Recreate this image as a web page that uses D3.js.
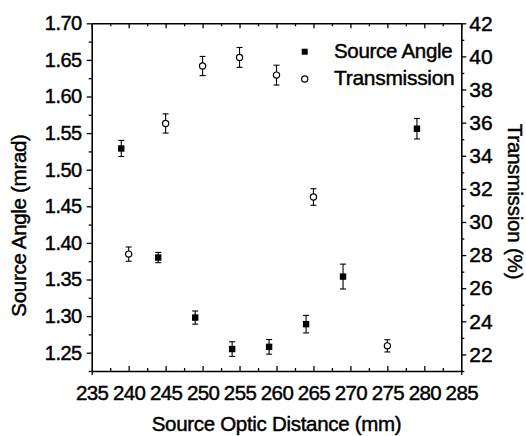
<!DOCTYPE html>
<html>
<head>
<meta charset="utf-8">
<script src="https://cdn.jsdelivr.net/npm/d3@7"></script>
<style>
  html, body { margin: 0; padding: 0; background: #fff; }
  svg { display: block; font-family: "Liberation Sans", Arial, sans-serif; }
  svg text { fill: #000; stroke: #000; stroke-width: 0.45px; }
</style>
</head>
<body>
<svg id="chart" width="526" height="436"></svg>
<script>
// ---- data ----
const distAngle = [239, 244, 249, 254, 259, 264, 269, 279];
const angle     = [1.529, 1.380, 1.298, 1.255, 1.258, 1.289, 1.354, 1.556];
const angleErr  = [0.011, 0.007, 0.009, 0.010, 0.010, 0.012, 0.017, 0.014];

const distTrans = [240, 245, 250, 255, 260, 265, 275];
const trans     = [28.06, 35.95, 39.42, 39.94, 38.87, 31.51, 22.52];
const transErr  = [0.43, 0.58, 0.58, 0.60, 0.60, 0.50, 0.37];

const xTicks     = [235, 240, 245, 250, 255, 260, 265, 270, 275, 280, 285];
const xMinor     = [237.5, 242.5, 247.5, 252.5, 257.5, 262.5, 267.5, 272.5, 277.5, 282.5];
const yLeftTicks = [1.25, 1.30, 1.35, 1.40, 1.45, 1.50, 1.55, 1.60, 1.65, 1.70];
const yLeftMinor = [1.225, 1.275, 1.325, 1.375, 1.425, 1.475, 1.525, 1.575, 1.625, 1.675];
const yRightTicks = [22, 24, 26, 28, 30, 32, 34, 36, 38, 40, 42];
const yRightMinor = [21, 23, 25, 27, 29, 31, 33, 35, 37, 39, 41];

const legendLabels = ["Source Angle", "Transmission"];

// ---- layout ----
const L = 91.7, R = 461.3, T = 23.3, B = 371;
const svg = d3.select("#chart");

const x  = d3.scaleLinear().domain([235, 285]).range([L, R]);
const yL = d3.scaleLinear().domain([1.225, 1.70]).range([B, T]);
const yR = d3.scaleLinear().domain([21, 42]).range([B, T]);

const fs = 20;

// bottom axis (ticks inward)
const gB = svg.append("g").attr("transform", `translate(0,${B})`)
  .call(d3.axisBottom(x).tickValues(xTicks).tickSizeInner(-5).tickSizeOuter(0).tickFormat(d3.format("d")).tickPadding(14));
gB.selectAll("text").style("font-size", "20.5px").style("letter-spacing", "-0.6px");
gB.selectAll(".tick").filter((d, i) => i === 0 || i === xTicks.length - 1).select("line").attr("y2", 4);
const gBm = svg.append("g").attr("transform", `translate(0,${B})`)
  .call(d3.axisBottom(x).tickValues(xMinor).tickSizeInner(-3).tickSizeOuter(0).tickFormat(""));
gBm.select(".domain").remove();

// top axis
const gT = svg.append("g").attr("transform", `translate(0,${T})`)
  .call(d3.axisTop(x).tickValues(xTicks).tickSizeInner(-5).tickSizeOuter(0).tickFormat(""));
const gTm = svg.append("g").attr("transform", `translate(0,${T})`)
  .call(d3.axisTop(x).tickValues(xMinor).tickSizeInner(-3).tickSizeOuter(0).tickFormat(""));
gTm.select(".domain").remove();

// left axis (ticks outward)
const gL = svg.append("g").attr("transform", `translate(${L},0)`)
  .call(d3.axisLeft(yL).tickValues(yLeftTicks).tickSizeInner(5).tickSizeOuter(0).tickFormat(d3.format(".2f")).tickPadding(5));
gL.selectAll("text").style("font-size", "20px").style("letter-spacing", "-0.5px");
const gLm = svg.append("g").attr("transform", `translate(${L},0)`)
  .call(d3.axisLeft(yL).tickValues(yLeftMinor).tickSizeInner(3).tickSizeOuter(0).tickFormat(""));
gLm.select(".domain").remove();

// right axis (ticks outward)
const gR = svg.append("g").attr("transform", `translate(${R},0)`)
  .call(d3.axisRight(yR).tickValues(yRightTicks).tickSizeInner(5).tickSizeOuter(0).tickFormat(d3.format("d")).tickPadding(3));
gR.selectAll("text").style("font-size", "21px");
const gRm = svg.append("g").attr("transform", `translate(${R},0)`)
  .call(d3.axisRight(yR).tickValues(yRightMinor).tickSizeInner(3).tickSizeOuter(0).tickFormat(""));
gRm.select(".domain").remove();

svg.selectAll(".domain").attr("stroke", "#000").attr("stroke-width", 1.6);
svg.selectAll(".tick line").attr("stroke", "#000").attr("stroke-width", 1.3);

// axis titles
svg.append("text").attr("x", (L + R) / 2 + 0).attr("y", 431)
  .attr("text-anchor", "middle").style("font-size", "20.5px").style("letter-spacing", "-0.3px").text("Source Optic Distance (mm)");
svg.append("text").attr("transform", "translate(26,225.5) rotate(-90)")
  .attr("text-anchor", "middle").style("font-size", "20.5px").style("letter-spacing", "-0.3px").text("Source Angle (mrad)");
svg.append("text").attr("transform", "translate(508,201.5) rotate(90)")
  .attr("text-anchor", "middle").style("font-size", "20.5px").style("letter-spacing", "-0.2px").text("Transmission (%)");

// error bars helper
function errorBars(xs, ys, es, yScale) {
  const g = svg.append("g").attr("stroke", "#000").attr("stroke-width", 1.1);
  xs.forEach((xv, i) => {
    const cx = x(xv), y1 = yScale(ys[i] - es[i]), y2 = yScale(ys[i] + es[i]);
    g.append("line").attr("x1", cx).attr("x2", cx).attr("y1", y1).attr("y2", y2);
    g.append("line").attr("x1", cx - 3).attr("x2", cx + 3).attr("y1", y1).attr("y2", y1);
    g.append("line").attr("x1", cx - 3).attr("x2", cx + 3).attr("y1", y2).attr("y2", y2);
  });
}

errorBars(distAngle, angle, angleErr, yL);
errorBars(distTrans, trans, transErr, yR);

// Source Angle squares
svg.append("g").selectAll("rect").data(distAngle).join("rect")
  .attr("x", (d) => x(d) - 3.2).attr("y", (d, i) => yL(angle[i]) - 3.2)
  .attr("width", 6.4).attr("height", 6.4).attr("fill", "#000");

// Transmission circles
svg.append("g").selectAll("circle").data(distTrans).join("circle")
  .attr("cx", (d) => x(d)).attr("cy", (d, i) => yR(trans[i]))
  .attr("r", 3.1).attr("fill", "#fff").attr("stroke", "#000").attr("stroke-width", 1.2);

// legend
const lg = svg.append("g");
lg.append("rect").attr("x", 301.7).attr("y", 48.7).attr("width", 6).attr("height", 6).attr("fill", "#000");
lg.append("circle").attr("cx", 304.7).attr("cy", 79).attr("r", 3.1).attr("fill", "#fff").attr("stroke", "#000").attr("stroke-width", 1.2);
lg.append("text").attr("x", 334).attr("y", 57.5).style("font-size", "20.5px").style("letter-spacing", "-0.3px").text(legendLabels[0]);
lg.append("text").attr("x", 334).attr("y", 85).style("font-size", "21px").style("letter-spacing", "-0.3px").text(legendLabels[1]);
</script>
</body>
</html>
